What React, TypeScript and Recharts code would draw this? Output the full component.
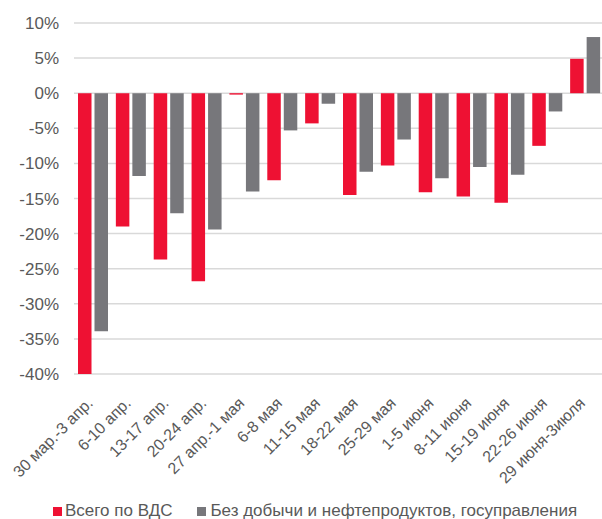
import React from 'react'
import { BarChart, Bar, XAxis, YAxis, CartesianGrid, Legend } from 'recharts'

const weeks = ['30 мар.-3 апр.', '6-10 апр.', '13-17 апр.', '20-24 апр.', '27 апр.-1 мая', '6-8 мая', '11-15 мая', '18-22 мая', '25-29 мая', '1-5 июня', '8-11 июня', '15-19 июня', '22-26 июня', '29 июня-3июля']
const totalGva = [-40.0, -19.0, -23.7, -26.8, -0.2, -12.4, -4.3, -14.5, -10.3, -14.1, -14.7, -15.6, -7.5, 4.9]
const exclOilGov = [-33.9, -11.8, -17.1, -19.4, -14.0, -5.3, -1.5, -11.2, -6.6, -12.1, -10.5, -11.6, -2.6, 8.0]
const yTicks = [-40, -35, -30, -25, -20, -15, -10, -5, 0, 5, 10]

const seriesNames = ['Всего по ВДС', 'Без добычи и нефтепродуктов, госуправления']
const colors = ['#EE1133', '#77777B']

const data = weeks.map((w, i) => ({ week: w, total: totalGva[i], excl: exclOilGov[i] }))

const font = '"Liberation Sans", Arial, sans-serif'

function WeekTick(props: any) {
  const { x, y, payload } = props
  const ax = x + 1
  const ay = y + 28
  return (
    <text x={ax} y={ay} transform={`rotate(-45, ${ax}, ${ay})`} textAnchor='end' fill='#595959' fontSize={16} fontFamily={font}>
      {payload.value}
    </text>
  )
}

function LegendBox() {
  return (
    <div style={{ display: 'flex', alignItems: 'center', marginLeft: 53, fontFamily: font, fontSize: 17, lineHeight: '16px', color: '#595959', height: 16 }}>
      <span style={{ width: 9, height: 9, background: colors[0], display: 'inline-block', marginRight: 3 }} />
      <span style={{ marginRight: 25 }}>{seriesNames[0]}</span>
      <span style={{ width: 9, height: 9, background: colors[1], display: 'inline-block', marginRight: 4 }} />
      <span>{seriesNames[1]}</span>
    </div>
  )
}

export default function App() {
  return (
    <div style={{ position: 'absolute', left: 0, top: 0, width: 602, height: 519, overflow: 'hidden', background: '#fff' }}>
      <BarChart width={604} height={519} data={data} margin={{ top: 23, right: 0, left: 0, bottom: 0 }} barGap={3} barSize={13.5}>
        <CartesianGrid vertical={false} stroke='#D9D9D9' strokeWidth={1.5} />
        <XAxis dataKey='week' interval={0} axisLine={false} tickLine={false} tickSize={0} height={129} tick={<WeekTick />} />
        <YAxis domain={[-40, 10]} ticks={yTicks} width={74} axisLine={false} tickLine={false} tickSize={0} tickMargin={15}
          tickFormatter={(v: number) => `${v}%`} tick={{ fill: '#595959', fontSize: 17, fontFamily: font }} />
        <Legend verticalAlign='bottom' align='left' content={<LegendBox />} wrapperStyle={{ left: 0, bottom: 0 }} />
        <Bar dataKey='total' name={seriesNames[0]} fill={colors[0]} isAnimationActive={false} />
        <Bar dataKey='excl' name={seriesNames[1]} fill={colors[1]} isAnimationActive={false} />
      </BarChart>
    </div>
  )
}
